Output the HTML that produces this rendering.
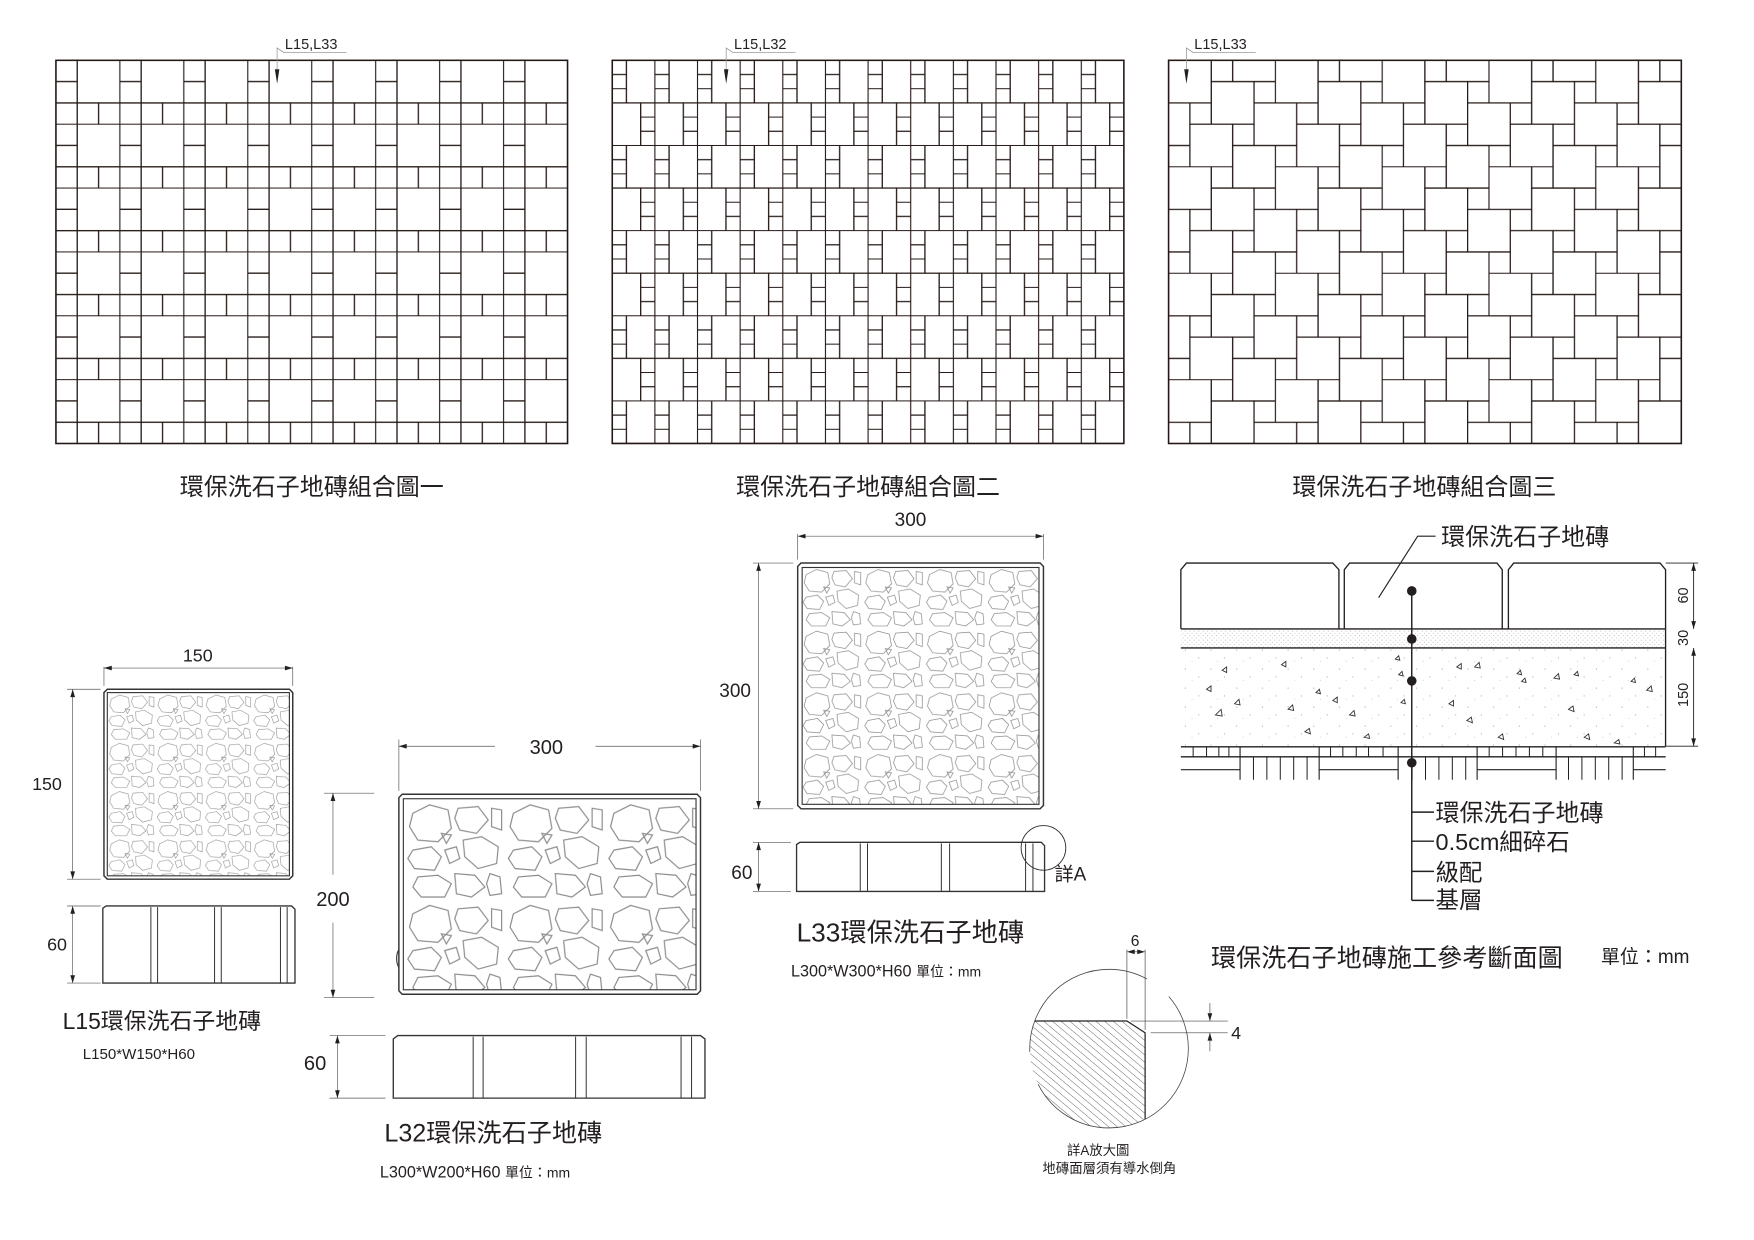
<!DOCTYPE html>
<html><head><meta charset="utf-8"><style>
html,body{margin:0;padding:0;background:#fff;}
svg{display:block;}
text{font-family:"Liberation Sans","Noto Sans CJK TC",sans-serif;fill:#231f20;}
</style></head><body>
<svg width="1754" height="1240" viewBox="0 0 1570 1110" xmlns="http://www.w3.org/2000/svg">
<defs>
 <pattern id="g1" patternUnits="userSpaceOnUse" x="50" y="54" width="57.25" height="57.17">
  <g fill="none" stroke="#231815" stroke-width="1.1" transform="scale(19.083,19.056)">
   <rect x="0" y="0" width="1" height="1" vector-effect="non-scaling-stroke"/>
   <rect x="0" y="1" width="1" height="1" vector-effect="non-scaling-stroke"/>
   <rect x="1" y="0" width="2" height="2" vector-effect="non-scaling-stroke"/>
   <rect x="0" y="2" width="1" height="1" vector-effect="non-scaling-stroke"/>
   <rect x="1" y="2" width="1" height="1" vector-effect="non-scaling-stroke"/>
   <rect x="2" y="2" width="1" height="1" vector-effect="non-scaling-stroke"/>
  </g>
 </pattern>
 <pattern id="g2" patternUnits="userSpaceOnUse" x="548" y="54" width="38.17" height="76.22">
  <g fill="none" stroke="#231815" stroke-width="1.1" transform="scale(12.722,12.704)">
   <rect x="0" y="0" width="1" height="1" vector-effect="non-scaling-stroke"/>
   <rect x="0" y="1" width="1" height="1" vector-effect="non-scaling-stroke"/>
   <rect x="0" y="2" width="1" height="1" vector-effect="non-scaling-stroke"/>
   <rect x="1" y="0" width="2" height="3" vector-effect="non-scaling-stroke"/>
   <rect x="0" y="3" width="2" height="3" vector-effect="non-scaling-stroke"/>
   <rect x="2" y="3" width="1" height="1" vector-effect="non-scaling-stroke"/>
   <rect x="2" y="4" width="1" height="1" vector-effect="non-scaling-stroke"/>
   <rect x="2" y="5" width="1" height="1" vector-effect="non-scaling-stroke"/>
  </g>
 </pattern>
 <pattern id="g3" patternUnits="userSpaceOnUse" x="1046" y="54" width="95.6" height="95.3">
  <g fill="none" stroke="#231815" stroke-width="1.1" transform="scale(19.12,19.06)">
   <g id="g3b">
   <rect x="0" y="0" width="2" height="2" vector-effect="non-scaling-stroke"/>
   <rect x="2" y="1" width="2" height="2" vector-effect="non-scaling-stroke"/>
   <rect x="4" y="2" width="2" height="2" vector-effect="non-scaling-stroke"/>
   <rect x="1" y="3" width="2" height="2" vector-effect="non-scaling-stroke"/>
   <rect x="3" y="4" width="2" height="2" vector-effect="non-scaling-stroke"/>
   <rect x="2" y="0" width="1" height="1" vector-effect="non-scaling-stroke"/>
   <rect x="4" y="1" width="1" height="1" vector-effect="non-scaling-stroke"/>
   <rect x="1" y="2" width="1" height="1" vector-effect="non-scaling-stroke"/>
   <rect x="3" y="3" width="1" height="1" vector-effect="non-scaling-stroke"/>
   <rect x="0" y="4" width="1" height="1" vector-effect="non-scaling-stroke"/>
   </g>
   <use href="#g3b" x="-5" y="0"/>
   <use href="#g3b" x="0" y="-5"/>
   <use href="#g3b" x="-5" y="-5"/>
  </g>
 </pattern>
 <g id="stones" fill="none" stroke="#8a8a8a" stroke-width="0.7">
  <polygon points="5,8 15,3 26,6 28,17 20,25 8,24 3,16"/>
  <polygon points="32,5 44,4 50,12 43,20 33,18 30,11"/>
  <polygon points="35,24 46,22 56,28 55,38 44,41 36,34"/>
  <polygon points="5,30 16,28 22,34 18,42 6,41 2,35"/>
  <polygon points="24,30 31,28 33,35 27,38"/>
  <polygon points="8,46 20,45 28,50 24,58 10,58 5,52"/>
  <polygon points="30,44 42,45 48,52 40,58 31,56"/>
  <polygon points="51,44 57,46 58,56 51,57 49,50"/>
  <polygon points="52,5 58,6 58,18 52,16"/>
  <polygon points="22,20 28,21 25,26"/>
 </g>
 <pattern id="st1" patternUnits="userSpaceOnUse" width="60" height="60" patternTransform="translate(96,620) scale(0.72)"><use href="#stones"/></pattern>
 <pattern id="st2" patternUnits="userSpaceOnUse" width="60" height="60" patternTransform="translate(362,716) scale(1.5)"><use href="#stones"/></pattern>
 <pattern id="st3" patternUnits="userSpaceOnUse" width="60" height="60" patternTransform="translate(717,507) scale(0.92)"><use href="#stones"/></pattern>
 <pattern id="dots" patternUnits="userSpaceOnUse" width="4" height="4"><circle cx="1" cy="1" r="0.45" fill="#aaa"/><circle cx="3" cy="3" r="0.45" fill="#bbb"/></pattern>
 <pattern id="speck" patternUnits="userSpaceOnUse" width="23" height="17"><circle cx="3" cy="4" r="0.5" fill="#999"/><circle cx="15" cy="11" r="0.5" fill="#999"/><circle cx="9" cy="14" r="0.4" fill="#aaa"/></pattern>
 <pattern id="hatch" patternUnits="userSpaceOnUse" width="5" height="5" patternTransform="rotate(-50)"><line x1="0" y1="0" x2="0" y2="5" stroke="#444" stroke-width="0.7"/></pattern>
 <marker id="ar" viewBox="0 0 10 10" refX="10" refY="5" markerWidth="9" markerHeight="7" orient="auto-start-reverse" markerUnits="userSpaceOnUse"><path d="M0,2 L10,5 L0,8 z" fill="#231f20"/></marker>
</defs>

<rect x="50" y="54" width="458" height="343" fill="url(#g1)" stroke="#231815" stroke-width="1.4"/>
<rect x="548" y="54" width="458" height="343" fill="url(#g2)" stroke="#231815" stroke-width="1.4"/>
<rect x="1046" y="54" width="459" height="343" fill="url(#g3)" stroke="#231815" stroke-width="1.4"/>

<g stroke="#999" stroke-width="0.7" fill="none">
 <polyline points="310,47 254,47 248,43 248,62"/>
 <polyline points="712,47 656,47 650,43 650,62"/>
 <polyline points="1124,47 1068,47 1062,43 1062,62"/>
</g>
<g fill="#231f20">
 <polygon points="246,62 250,62 248,75"/>
 <polygon points="648,62 652,62 650,75"/>
 <polygon points="1060,62 1064,62 1062,75"/>
</g>
<text x="255" y="44" font-size="13">L15,L33</text>
<text x="657" y="44" font-size="13">L15,L32</text>
<text x="1069" y="44" font-size="13">L15,L33</text>

<text x="279" y="443" font-size="21.5" text-anchor="middle">環保洗石子地磚組合圖一</text>
<text x="777" y="443" font-size="21.5" text-anchor="middle">環保洗石子地磚組合圖二</text>
<text x="1275" y="443" font-size="21.5" text-anchor="middle">環保洗石子地磚組合圖三</text>

<!-- L15 -->
<g stroke="#333" fill="none">
 <rect x="96" y="620" width="163" height="164" fill="url(#st1)" stroke="none"/>
 <path d="M96,617 L259,617 L262,620 L262,784 L259,787 L96,787 L93,784 L93,620 Z" stroke-width="1.3"/>
 <rect x="96" y="620" width="163" height="164" stroke-width="1"/>
 <g stroke-width="0.6" stroke="#555">
  <line x1="93" y1="597" x2="93" y2="614"/><line x1="262" y1="597" x2="262" y2="614"/>
  <line x1="93" y1="598" x2="262" y2="598" marker-start="url(#ar)" marker-end="url(#ar)"/>
  <line x1="60" y1="617" x2="90" y2="617"/><line x1="60" y1="787" x2="90" y2="787"/>
  <line x1="65" y1="617" x2="65" y2="787" marker-start="url(#ar)" marker-end="url(#ar)"/>
  <line x1="60" y1="811" x2="90" y2="811"/><line x1="60" y1="880" x2="90" y2="880"/>
  <line x1="65" y1="811" x2="65" y2="880" marker-start="url(#ar)" marker-end="url(#ar)"/>
 </g>
 <path d="M92,880 L92,813 L95,811 L261,811 L264,814 L264,880 Z" stroke-width="1.2"/>
 <g stroke-width="0.9"><line x1="135" y1="812" x2="135" y2="880"/><line x1="141" y1="812" x2="141" y2="880"/><line x1="192" y1="812" x2="192" y2="880"/><line x1="198" y1="812" x2="198" y2="880"/><line x1="251" y1="812" x2="251" y2="880"/><line x1="257" y1="812" x2="257" y2="880"/></g>
</g>
<text x="177" y="592" font-size="16" text-anchor="middle">150</text>
<text x="42" y="707" font-size="16" text-anchor="middle">150</text>
<text x="51" y="851" font-size="16" text-anchor="middle">60</text>
<text x="56" y="921" font-size="20.5">L15環保洗石子地磚</text>
<text x="74" y="948" font-size="13.5">L150*W150*H60</text>

<!-- L32 -->
<g stroke="#333" fill="none">
 <rect x="361" y="715" width="262" height="171" fill="url(#st2)" stroke="none"/>
 <path d="M360,711 L624,711 L627,714 L627,887 L624,890 L360,890 L357,887 L357,714 Z" stroke-width="1.3"/>
 <rect x="361" y="715" width="262" height="171" stroke-width="1"/>
 <path d="M357,850 A5,10 0 0 0 357,866" stroke-width="1"/>
 <g stroke-width="0.6" stroke="#555">
  <line x1="357" y1="662" x2="357" y2="708"/><line x1="627" y1="662" x2="627" y2="708"/>
  <line x1="357" y1="668" x2="443" y2="668" marker-start="url(#ar)"/>
  <line x1="533" y1="668" x2="627" y2="668" marker-end="url(#ar)"/>
  <line x1="290" y1="710" x2="335" y2="710"/><line x1="290" y1="893" x2="335" y2="893"/>
  <line x1="298" y1="710" x2="298" y2="783" marker-start="url(#ar)"/>
  <line x1="298" y1="826" x2="298" y2="893" marker-end="url(#ar)"/>
  <line x1="295" y1="927" x2="345" y2="927"/><line x1="295" y1="983" x2="345" y2="983"/>
  <line x1="302" y1="927" x2="302" y2="983" marker-start="url(#ar)" marker-end="url(#ar)"/>
 </g>
 <path d="M352,983 L352,930 L356,927 L627,927 L631,930 L631,983 Z" stroke-width="1.2"/>
 <g stroke-width="0.9"><line x1="423.5" y1="928" x2="423.5" y2="983"/><line x1="432.4" y1="928" x2="432.4" y2="983"/><line x1="515.2" y1="928" x2="515.2" y2="983"/><line x1="524.7" y1="928" x2="524.7" y2="983"/><line x1="609.6" y1="928" x2="609.6" y2="983"/><line x1="619" y1="928" x2="619" y2="983"/></g>
</g>
<text x="489" y="675" font-size="18" text-anchor="middle">300</text>
<text x="298" y="811" font-size="18" text-anchor="middle">200</text>
<text x="282" y="958" font-size="18" text-anchor="middle">60</text>
<text x="344" y="1022" font-size="22.5">L32環保洗石子地磚</text>
<text x="340" y="1054" font-size="14.5">L300*W200*H60 <tspan font-size="12.5">單位：mm</tspan></text>

<!-- L33 -->
<g stroke="#333" fill="none">
 <rect x="718" y="508" width="212" height="212" fill="url(#st3)" stroke="none"/>
 <path d="M717,504 L931,504 L934,507 L934,721 L931,724 L717,724 L714,721 L714,507 Z" stroke-width="1.3"/>
 <rect x="718" y="508" width="212" height="212" stroke-width="1"/>
 <g stroke-width="0.6" stroke="#555">
  <line x1="714" y1="478" x2="714" y2="501"/><line x1="934" y1="478" x2="934" y2="501"/>
  <line x1="714" y1="480" x2="934" y2="480" marker-start="url(#ar)" marker-end="url(#ar)"/>
  <line x1="674" y1="504" x2="710" y2="504"/><line x1="674" y1="724" x2="710" y2="724"/>
  <line x1="679" y1="504" x2="679" y2="724" marker-start="url(#ar)" marker-end="url(#ar)"/>
  <line x1="674" y1="754" x2="708" y2="754"/><line x1="674" y1="798" x2="708" y2="798"/>
  <line x1="679" y1="754" x2="679" y2="798" marker-start="url(#ar)" marker-end="url(#ar)"/>
 </g>
 <path d="M713,798 L713,756 L716,754 L932,754 L935,757 L935,798 Z" stroke-width="1.2"/>
 <g stroke-width="0.9"><line x1="770" y1="755" x2="770" y2="798"/><line x1="776.5" y1="755" x2="776.5" y2="798"/><line x1="842.6" y1="755" x2="842.6" y2="798"/><line x1="850" y1="755" x2="850" y2="798"/><line x1="918" y1="755" x2="918" y2="798"/><line x1="924.6" y1="755" x2="924.6" y2="798"/></g>
 <circle cx="934" cy="759" r="20" stroke-width="0.8"/>
</g>
<text x="815" y="471" font-size="17" text-anchor="middle">300</text>
<text x="658" y="624" font-size="17" text-anchor="middle">300</text>
<text x="664" y="787" font-size="17" text-anchor="middle">60</text>
<text x="944" y="788" font-size="17">詳A</text>
<text x="713" y="843" font-size="23.5">L33環保洗石子地磚</text>
<text x="708" y="874" font-size="14.5">L300*W300*H60 <tspan font-size="12.5">單位：mm</tspan></text>

<!-- Section -->
<g stroke="#231f20" fill="none" stroke-width="1.2">
 <rect x="1057" y="563" width="433" height="17" fill="url(#dots)" stroke="none"/>
 <rect x="1057" y="580" width="433" height="88" fill="url(#speck)" stroke="none"/>
 <path d="M1057,563 L1057,510 L1062,504 L1193,504 L1198.5,510 L1198.5,563"/>
 <path d="M1203.3,563 L1203.3,510 L1208,504 L1340,504 L1344.7,510 L1344.7,563"/>
 <path d="M1350.2,563 L1350.2,510 L1355,504 L1486,504 L1490.9,510 L1490.9,668"/>
 <line x1="1057" y1="563" x2="1491" y2="563"/>
 <line x1="1057" y1="580" x2="1491" y2="580"/>
 <line x1="1057" y1="668.5" x2="1491" y2="668.5"/>
 <line x1="1057" y1="677.5" x2="1491" y2="677.5"/>
 <g stroke-width="1">
  <line x1="1057" y1="689" x2="1110" y2="689"/>
  <line x1="1180.8" y1="689" x2="1251.5" y2="689"/>
  <line x1="1322.2" y1="689" x2="1392.9" y2="689"/>
  <line x1="1462" y1="689" x2="1491" y2="689"/>
  <line x1="1110" y1="668.5" x2="1110" y2="698"/>
  <line x1="1180.8" y1="668.5" x2="1180.8" y2="698"/>
  <line x1="1251.5" y1="668.5" x2="1251.5" y2="698"/>
  <line x1="1322.2" y1="668.5" x2="1322.2" y2="698"/>
  <line x1="1392.9" y1="668.5" x2="1392.9" y2="698"/>
  <line x1="1462" y1="668.5" x2="1462" y2="698"/>
 </g>
 <g stroke-width="0.9">
  <path d="M1068,668.5V677.5M1080,668.5V677.5M1091,668.5V677.5M1100,668.5V677.5"/>
  <path d="M1191,668.5V677.5M1202,668.5V677.5M1214,668.5V677.5M1225,668.5V677.5M1238,668.5V677.5"/>
  <path d="M1333,668.5V677.5M1345,668.5V677.5M1357,668.5V677.5M1369,668.5V677.5M1381,668.5V677.5"/>
  <path d="M1472,668.5V677.5M1482,668.5V677.5"/>
  <path d="M1122,677.5V698M1134,677.5V698M1146,677.5V698M1158,677.5V698M1170,677.5V698"/>
  <path d="M1264,677.5V698M1276,677.5V698M1288,677.5V698M1300,677.5V698M1312,677.5V698"/>
  <path d="M1404,677.5V698M1416,677.5V698M1428,677.5V698M1440,677.5V698M1452,677.5V698"/>
 </g>
 <g stroke-width="0.8">
  <line x1="1491" y1="504" x2="1520" y2="504"/><line x1="1491" y1="668" x2="1520" y2="668"/>
  <line x1="1516" y1="504" x2="1516" y2="563" marker-start="url(#ar)" marker-end="url(#ar)"/>
  <line x1="1516" y1="580" x2="1516" y2="668" marker-start="url(#ar)" marker-end="url(#ar)"/>
 </g>
</g>
<g fill="none" stroke="#333" stroke-width="0.8">
 <path d="M1094,600 l4,-3 l0,5z M1105,630 l4,-4 l1,5z M1088,640 l5,-5 l1,6z M1147,595 l4,-3 l0,5z M1153,635 l4,-4 l1,5z M1168,655 l4,-3 l1,5z M1193,627 l4,-3 l0,5z M1208,640 l4,-4 l1,5z M1221,660 l4,-3 l1,4z M1249,590 l3,-3 l1,4z M1252,604 l3,-3 l1,4z M1254,629 l3,-3 l1,4z M1304,597 l4,-3 l0,5z M1320,597 l4,-4 l1,5z M1297,630 l4,-3 l0,5z M1313,645 l4,-3 l1,5z M1341,660 l4,-3 l1,5z M1358,603 l3,-3 l1,4z M1362,610 l3,-3 l1,4z M1391,607 l4,-4 l1,5z M1409,604 l3,-3 l1,4z M1404,635 l4,-3 l1,5z M1418,660 l4,-3 l1,5z M1460,610 l3,-3 l1,4z M1474,618 l4,-4 l1,5z M1445,665 l4,-3 l1,4z M1178,620 l3,-3 l1,4z M1080,617 l4,-3 l0,5z"/>
</g>
<g stroke="#231f20" stroke-width="1.3" fill="none">
 <line x1="1263.7" y1="529" x2="1263.7" y2="806"/>
 <polyline points="1283.6,727 1263.7,727"/>
 <polyline points="1283.6,753 1263.7,753"/>
 <polyline points="1283.6,780 1263.7,780"/>
 <polyline points="1283.6,806 1263.7,806"/>
 <polyline points="1285,480 1269,480 1234,535" stroke-width="1"/>
</g>
<g fill="#231f20"><circle cx="1263.7" cy="529" r="4.3"/><circle cx="1263.7" cy="572" r="4.3"/><circle cx="1263.7" cy="609.5" r="4.3"/><circle cx="1263.7" cy="682.8" r="4.3"/></g>
<text x="1290" y="488" font-size="21.5">環保洗石子地磚</text>
<text x="1285" y="735" font-size="21.5">環保洗石子地磚</text>
<text x="1285" y="761" font-size="21">0.5cm細碎石</text>
<text x="1285" y="788" font-size="21">級配</text>
<text x="1285" y="813" font-size="21">基層</text>
<text x="1507" y="533" font-size="13" text-anchor="middle" transform="rotate(-90 1507 533)" dy="4">60</text>
<text x="1507" y="571" font-size="13" text-anchor="middle" transform="rotate(-90 1507 571)" dy="4">30</text>
<text x="1507" y="622" font-size="13" text-anchor="middle" transform="rotate(-90 1507 622)" dy="4">150</text>
<text x="1084" y="865" font-size="22.5">環保洗石子地磚施工參考斷面圖</text>
<text x="1433" y="862" font-size="17">單位：mm</text>

<!-- Detail A -->
<clipPath id="cA"><circle cx="992.7" cy="938.7" r="71"/></clipPath>
<path d="M900,914 L1008.7,914 L1025,924.5 L1025,1020 L900,1020 Z" fill="url(#hatch)" stroke="none" clip-path="url(#cA)"/>
<g clip-path="url(#cA)" fill="none" stroke="#231f20" stroke-width="1.1">
 <path d="M900,914 L1008.7,914 L1025,924.5 L1025,1020"/>
</g>
<circle cx="992.7" cy="938.7" r="71" fill="none" stroke="#444" stroke-width="0.7" stroke-dasharray="190 30 150 25 80 0"/>
<g stroke="#444" stroke-width="0.6" fill="none">
 <line x1="1008.7" y1="850" x2="1008.7" y2="912"/>
 <line x1="1025" y1="850" x2="1025" y2="922"/>
 <line x1="1008.7" y1="852" x2="1025" y2="852" marker-start="url(#ar)" marker-end="url(#ar)"/>
 <line x1="1012" y1="914" x2="1099" y2="914"/>
 <line x1="1030" y1="924.5" x2="1099" y2="924.5"/>
 <line x1="1083" y1="898" x2="1083" y2="914" marker-end="url(#ar)"/>
 <line x1="1083" y1="941" x2="1083" y2="924.5" marker-end="url(#ar)"/>
</g>
<text x="1016" y="847" font-size="14" text-anchor="middle">6</text>
<text x="1102" y="930" font-size="16">4</text>
<text x="983" y="1034" font-size="12" text-anchor="middle">詳A放大圖</text>
<text x="993" y="1050" font-size="12" text-anchor="middle">地磚面層須有導水倒角</text>
</svg>
</body></html>
